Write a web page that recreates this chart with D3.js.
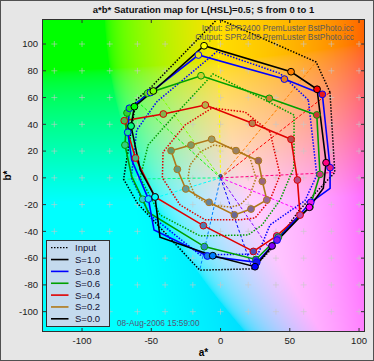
<!DOCTYPE html>
<html><head><meta charset="utf-8">
<script src="https://cdn.jsdelivr.net/npm/d3@7"></script>
<style>
body{margin:0;background:#e6e6e6;}
svg{display:block;font-family:"Liberation Sans",Arial,sans-serif;}
</style>
</head><body>
<svg id="chart" width="374" height="361"></svg>
<script>
// ---------- DATA ----------
const title = "a*b* Saturation map for L(HSL)=0.5; S from 0 to 1";
const hues = [0,30,60,90,120,150,180,210,240,270,300,330];
const xTicks = [-100,-50,0,50,100];
const yTicks = [-100,-80,-60,-40,-20,0,20,40,60,80,100];
const legendLabels = ["Input","S=1.0","S=0.8","S=0.6","S=0.4","S=0.2","S=0.0"];
const infoLines = ["Input: SPR2400 PremLuster BstPhoto.icc","Output: SPR2400 PremLuster BstPhoto.icc"];
const dateText = "08-Aug-2006 15:59:00";

// Output (solid) a*, b*: 24 entries, even = hue marker (0,30,...), odd = intermediate bend (null = none)
const out10A = [69.7,null,50.9,null,-11.9,null,-48.5,null,-62.2,null,-64.6,-58,-47.3,-43.7,-5.6,null,24.9,null,37.2,null,64.1,74.2,76.2,null];
const out10B = [66.2,null,79.3,null,98.7,null,64.9,null,53.2,null,38.7,6,-14.3,-44.4,-58.2,null,-66.4,null,-50.9,null,-22.0,-7.7,11.3,null];
const out08A = [73.5,null,46.1,null,-16.0,null,-50.5,null,-65.8,null,-67.0,-64.1,-52.1,-48.0,-9.5,null,26.1,null,40.8,null,65.1,79.1,79.1,null];
const out08B = [62.4,null,73.8,null,91.8,null,63.8,null,52.0,null,34.0,13.3,-15.8,-39.0,-58.4,null,-63.2,null,-46.5,null,-18.3,-7.8,7.6,null];
const out06A = [69.5,null,35.2,null,-14.1,null,-52.6,null,-67.5,null,-69.0,-64.1,-56.2,-52.3,-11.7,null,25.5,null,41.7,null,64.6,null,71.8,null];
const out06B = [47.0,null,59.4,null,76.3,null,63.2,null,48.5,null,24.5,0.9,-16.0,-25.6,-51.4,null,-61.0,null,-44.4,null,-21.6,null,2.6,null];
const out04A = [50.9,null,23.0,null,-11.0,null,-41.3,null,-69.5,null,-61.4,null,-47.3,null,-12.4,null,23.7,null,40.6,null,57.4,null,55.5,null];
const out04B = [28.8,null,40.8,null,54.4,null,47.7,null,42.7,null,14.8,null,-14.3,null,-35.7,null,-55.0,null,-43.4,null,-27.8,null,-1.6,null];
const out02A = [27.3,null,11.2,null,-6.4,null,-21.3,null,-35.7,null,-31.2,null,-25.1,null,-8.3,null,10.0,null,22.0,null,33.4,null,30.2,null];
const out02B = [12.8,null,20.3,null,28.8,null,24.5,null,20.3,null,6.4,null,-8.3,null,-18.3,null,-27.7,null,-23.3,null,-16.5,null,-2.6,null];
const out00A = [0]; const out00B = [1.5];

// Input (dotted) a*, b* per hue
const in10A = [79,69,-2,-49,-61,-70,-60,-15,23,36,57,82.5];
const in10B = [64,86.6,119,69,58,-1,-19,-69,-68,-54,-24,4];
const in08A = [63.4,43,-2.7,-46,-60.5,-64.5,-50.9,-14.8,27.1,35.7,61,69.5];
const in08B = [58.2,78,94.3,56.9,35.7,0,-27.7,-57.6,-56.9,-35.2,-17,2];
const in06A = [53.1,32.1,-5.4,-35,-52.3,-58,-43.7,-14.8,19.9,30,43,53];
const in06B = [46.9,58.1,77.6,44.7,24.5,0,-27.7,-43.4,-42.7,-35.2,-16.6,8];
const in04A = [35.7,17.7,-6.1,-25.6,-41.5,-42,-29.2,-11.2,14.1,24.9,35.7,43];
const in04B = [34.3,49.2,52.2,39.5,19.3,0,-20.3,-31.3,-31.3,-30,-16.6,2.1];
const in02A = [21.3,10.5,-4.7,-14.8,-22,-23.5,-18.4,-7.6,6.9,14.1,21.3,25.6];
const in02B = [14.8,22.3,24.5,19.3,9.6,-0.1,-13.5,-20.3,-21.8,-20.3,-12.8,-0.1];

// ---------- LAYOUT ----------
const svg = d3.select("#chart");
const W = 374, H = 361;
const plot = {l:42, r:365, t:19, b:332};
const x = d3.scaleLinear().domain([-128.9,104.3]).range([plot.l,plot.r]);
const y = d3.scaleLinear().domain([-115.2,118.7]).range([plot.b,plot.t]);

svg.append("rect").attr("x",0.5).attr("y",0.5).attr("width",W-1).attr("height",H-1)
  .attr("fill","#e6e6e6").attr("stroke","#505050");

// background Lab image
const pw = plot.r-plot.l, ph = plot.b-plot.t;
const cv = document.createElement("canvas"); cv.width=pw; cv.height=ph;
const ctx = cv.getContext("2d"); const img = ctx.createImageData(pw,ph);
for(let j=0;j<ph;j++){ for(let i=0;i<pw;i++){
  const a = x.invert(plot.l+i+0.5), b = y.invert(plot.t+j+0.5);
  const c = d3.lab(89,a,b).rgb();
  const k=(j*pw+i)*4;
  img.data[k]=Math.max(0,Math.min(255,c.r));
  img.data[k+1]=Math.max(0,Math.min(255,c.g));
  img.data[k+2]=Math.max(0,Math.min(255,c.b));
  img.data[k+3]=255;
}}
ctx.putImageData(img,0,0);
svg.append("image").attr("x",plot.l).attr("y",plot.t).attr("width",pw).attr("height",ph)
  .attr("href",cv.toDataURL());

svg.append("defs").append("clipPath").attr("id","clip").append("rect")
  .attr("x",plot.l).attr("y",plot.t).attr("width",pw).attr("height",ph);
const g = svg.append("g").attr("clip-path","url(#clip)");

// grid crosses
const gx = d3.range(-120,101,20), gy = d3.range(-100,101,20);
gx.forEach(a=>gy.forEach(b=>{
  g.append("path").attr("d",`M${x(a)-3},${y(b)}h6M${x(a)},${y(b)-3}v6`)
   .attr("stroke","#c8c8c8").attr("stroke-opacity",0.6).attr("stroke-width",1);
}));

const hueCol = h => d3.hsl(h,1,0.5).formatHex();
const line = d3.line().defined(d=>d[0]!==null).x(d=>x(d[0])).y(d=>y(d[1]));
const zipPts = (A,B)=>A.map((a,i)=>[a,B[i]]).filter(d=>d[0]!==null);

// spokes
hues.forEach((h,i)=>{
  g.append("path").attr("d",line([[0,0],[in10A[i],in10B[i]]]))
   .attr("stroke",hueCol(h)).attr("stroke-width",1).attr("stroke-dasharray","3,2").attr("fill","none");
});

const series = [
  {s:1.0,col:"#000000",inA:in10A,inB:in10B,outA:out10A,outB:out10B},
  {s:0.8,col:"#0000ff",inA:in08A,inB:in08B,outA:out08A,outB:out08B},
  {s:0.6,col:"#00a000",inA:in06A,inB:in06B,outA:out06A,outB:out06B},
  {s:0.4,col:"#e00000",inA:in04A,inB:in04B,outA:out04A,outB:out04B},
  {s:0.2,col:"#b07818",inA:in02A,inB:in02B,outA:out02A,outB:out02B}
];
// input dotted polygons
series.forEach(d=>{
  const p = zipPts(d.inA,d.inB); p.push(p[0]);
  g.append("path").attr("d",line(p)).attr("fill","none").attr("stroke",d.col)
   .attr("stroke-width",1.5).attr("stroke-dasharray","1.5,1.5");
});
// output solid polygons + markers
series.slice().reverse().forEach(d=>{
  const p = zipPts(d.outA,d.outB); p.push(p[0]);
  g.append("path").attr("d",line(p)).attr("fill","none").attr("stroke",d.col).attr("stroke-width",1.6);
});
series.slice().reverse().forEach(d=>{
  hues.forEach((h,i)=>{
    g.append("circle").attr("cx",x(d.outA[2*i])).attr("cy",y(d.outB[2*i])).attr("r",3.4)
     .attr("fill",d3.hsl(h,d.s,0.5).formatHex()).attr("stroke",d.col).attr("stroke-width",1);
  });
});
g.append("circle").attr("cx",x(out00A[0])).attr("cy",y(out00B[0])).attr("r",1.5)
 .attr("fill","#4060c0").attr("stroke","#000").attr("stroke-width",0.5);

// axes box and ticks
svg.append("rect").attr("x",plot.l+0.5).attr("y",plot.t+0.5).attr("width",pw-1).attr("height",ph-1)
  .attr("fill","none").attr("stroke","#303030");
xTicks.forEach(t=>{
  svg.append("path").attr("d",`M${x(t)},${plot.b}v-4M${x(t)},${plot.t}v4`).attr("stroke","#303030");
  svg.append("text").attr("x",x(t)).attr("y",344).attr("text-anchor","middle")
    .attr("font-size",9.5).attr("fill","#202020").text(t);
});
yTicks.forEach(t=>{
  svg.append("path").attr("d",`M${plot.l},${y(t)}h4M${plot.r},${y(t)}h-4`).attr("stroke","#303030");
  svg.append("text").attr("x",38).attr("y",y(t)+3.3).attr("text-anchor","end")
    .attr("font-size",9.5).attr("fill","#202020").text(t);
});
svg.append("text").attr("x",(plot.l+plot.r)/2).attr("y",356).attr("text-anchor","middle")
  .attr("font-size",10).attr("font-weight","bold").text("a*");
svg.append("text").attr("transform",`translate(11,${(plot.t+plot.b)/2}) rotate(-90)`).attr("text-anchor","middle")
  .attr("font-size",10).attr("font-weight","bold").text("b*");
svg.append("text").attr("x",(plot.l+plot.r)/2).attr("y",13).attr("text-anchor","middle")
  .attr("font-size",9.5).attr("font-weight","bold").attr("fill","#101010").text(title);

infoLines.forEach((t,i)=>{
  svg.append("text").attr("x",354).attr("y",31+i*9).attr("text-anchor","end")
    .attr("font-size",8.3).attr("fill","#5a5a5a").text(t);
});
svg.append("text").attr("x",117).attr("y",326).attr("font-size",8.3).attr("fill","#555577").text(dateText);

// legend
const lg = svg.append("g");
lg.append("rect").attr("x",46.5).attr("y",240.5).attr("width",63).attr("height",86)
  .attr("fill","#c4daee").attr("stroke","#303030");
const legCols = ["#000","#000","#0000ff","#00a000","#e00000","#b07818","#000"];
legendLabels.forEach((t,i)=>{
  const yy = 247.7 + i*11.85;
  lg.append("line").attr("x1",51).attr("x2",68.5).attr("y1",yy).attr("y2",yy)
    .attr("stroke",legCols[i]).attr("stroke-width",i===0?1.3:1.6)
    .attr("stroke-dasharray",i===0?"1.5,1.5":null);
  lg.append("text").attr("x",75).attr("y",yy+3.5).attr("font-size",9.5).attr("fill","#101030").text(t);
});
</script>
</body></html>
